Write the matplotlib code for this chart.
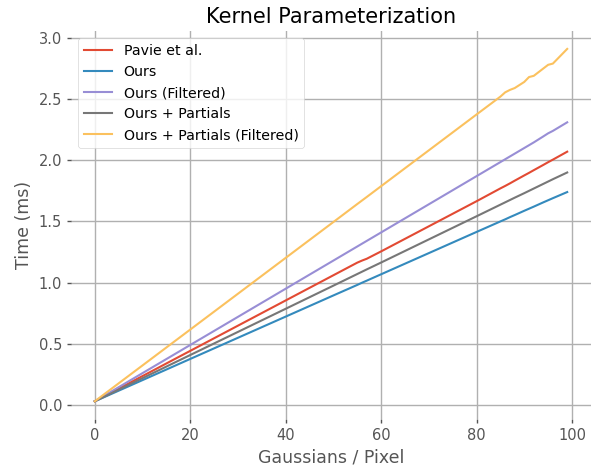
import matplotlib
matplotlib.use("Agg")
import matplotlib.pyplot as plt

plt.style.use("ggplot")

x_pts = [0, 10, 20, 30, 40, 50, 55, 56, 57, 60, 70, 80, 85, 86, 87, 88, 90, 91, 92, 94, 95, 96, 99]

pavie = [0.03, 0.236, 0.442, 0.648, 0.854, 1.06, 1.163, 1.18, 1.195, 1.255, 1.46, 1.665, 1.77, 1.79, 1.811, 1.833, 1.876, 1.897, 1.919, 1.962, 1.984, 2.005, 2.07]
ours = [0.03, 0.203, 0.376, 0.549, 0.722, 0.895, 0.981, 0.999, 1.016, 1.068, 1.241, 1.414, 1.50, 1.517, 1.535, 1.552, 1.587, 1.604, 1.621, 1.656, 1.673, 1.69, 1.74]
ours_f = [0.03, 0.26, 0.49, 0.72, 0.95, 1.18, 1.295, 1.318, 1.341, 1.41, 1.64, 1.87, 1.985, 2.008, 2.031, 2.054, 2.10, 2.123, 2.146, 2.195, 2.22, 2.24, 2.31]
partials = [0.03, 0.219, 0.408, 0.597, 0.786, 0.975, 1.07, 1.089, 1.108, 1.164, 1.353, 1.542, 1.637, 1.656, 1.675, 1.694, 1.731, 1.75, 1.769, 1.807, 1.826, 1.845, 1.90]
partials_f = [0.03, 0.323, 0.616, 0.909, 1.202, 1.495, 1.642, 1.671, 1.70, 1.788, 2.081, 2.374, 2.52, 2.555, 2.575, 2.59, 2.64, 2.68, 2.69, 2.75, 2.78, 2.79, 2.91]

series = [
    ("Pavie et al.", pavie, "#E24A33"),
    ("Ours", ours, "#348ABD"),
    ("Ours (Filtered)", ours_f, "#988ED5"),
    ("Ours + Partials", partials, "#777777"),
    ("Ours + Partials (Filtered)", partials_f, "#FBC15E"),
]

fig = plt.figure(figsize=(5.98, 4.67), dpi=100)
fig.patch.set_facecolor("white")
ax = fig.add_axes([0.119, 0.103, 0.869, 0.83])
ax.set_facecolor("white")
for label, vals, c in series:
    ax.plot(x_pts, vals, color=c, lw=1.5, label=label)

ax.grid(True, color="#b0b0b0", lw=1.0)
for s in ax.spines.values():
    s.set_visible(False)
ax.tick_params(axis="both", colors="#555555", labelsize=10.5, length=3, width=1, direction="out")
ax.set_xticks([0, 20, 40, 60, 80, 100])
ax.set_yticks([0.0, 0.5, 1.0, 1.5, 2.0, 2.5, 3.0])
ax.set_title("Kernel Parameterization", fontsize=15, color="black")
ax.set_xlabel("Gaussians / Pixel", fontsize=12.5, color="#555555")
ax.set_ylabel("Time (ms)", fontsize=12.5, color="#555555")
leg = ax.legend(loc="upper left", fontsize=10.2, facecolor="white", edgecolor="#cccccc", framealpha=0.8)
fig.savefig("out.png", dpi=100, facecolor="white")
